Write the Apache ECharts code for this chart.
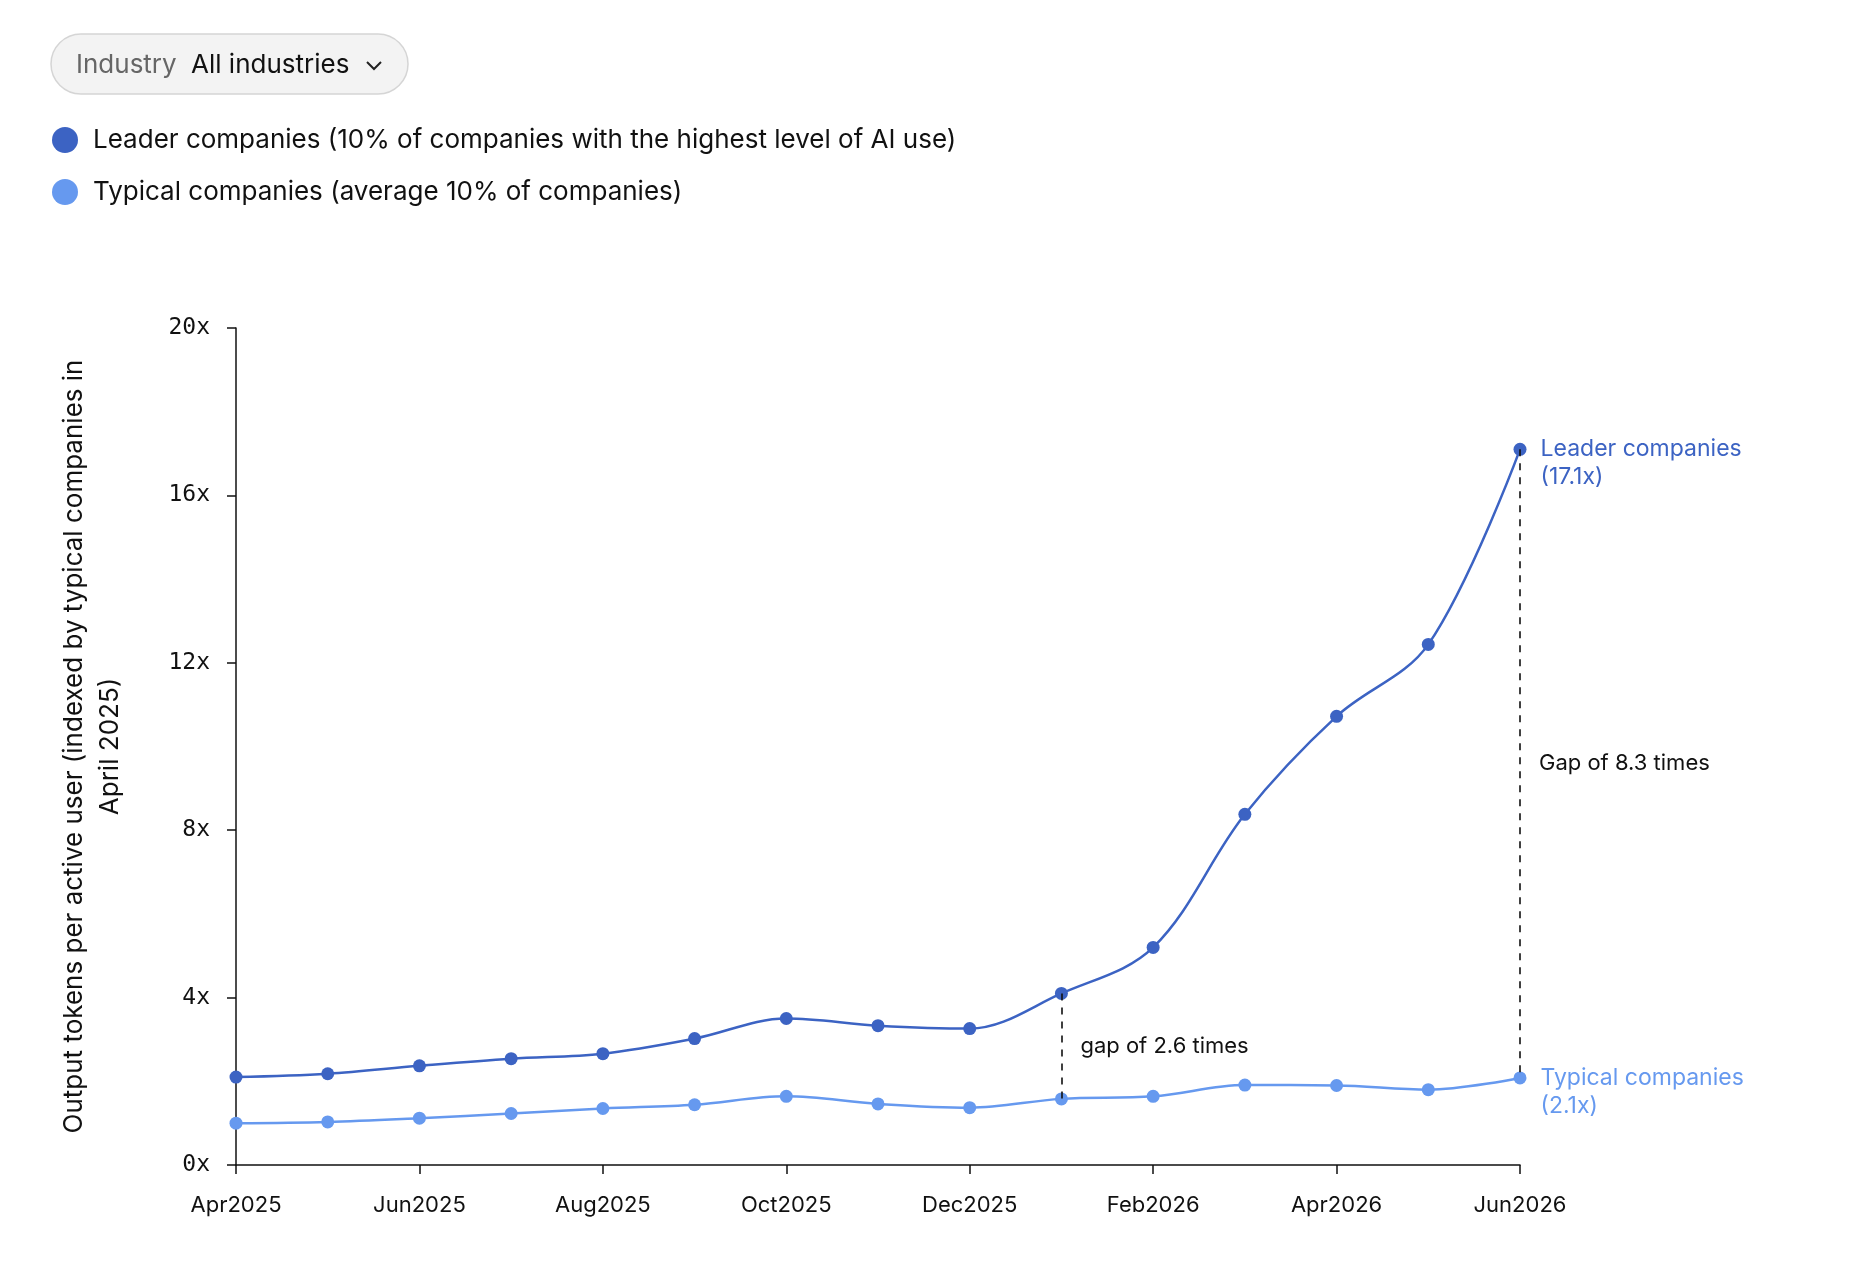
<!DOCTYPE html>
<html>
<head>
<meta charset="utf-8">
<title>Output tokens per active user</title>
<script src="https://cdn.jsdelivr.net/npm/echarts@6/dist/echarts.min.js"></script>
<style>
  html, body { margin: 0; padding: 0; background: #fff; }
  #main { width: 1850px; height: 1280px; }
</style>
</head>
<body>
<div id="main"></div>
<script>
// months, Apr 2025 .. Jun 2026
var months = ["Apr2025", "May2025", "Jun2025", "Jul2025", "Aug2025", "Sep2025", "Oct2025",
  "Nov2025", "Dec2025", "Jan2026", "Feb2026", "Mar2026", "Apr2026", "May2026", "Jun2026"];
var leaderValues = [2.1, 2.18, 2.37, 2.54, 2.66, 3.02, 3.5, 3.33, 3.26, 4.1, 5.2, 8.38, 10.72, 12.44, 17.1];
var typicalValues = [1.0, 1.03, 1.12, 1.23, 1.35, 1.44, 1.64, 1.46, 1.37, 1.58, 1.64, 1.91, 1.9, 1.8, 2.08];
var yTicks = { min: 0, max: 20, interval: 4 };
var leaderName = "Leader companies (10% of companies with the highest level of AI use)";
var typicalName = "Typical companies (average 10% of companies)";

var leaderColor = "#3c63c3";
var typicalColor = "#6699ef";
var uiFont = "Inter, Lato, 'Noto Sans', sans-serif";

var gapA = 9, gapB = 14; // Jan2026 and Jun2026
var last = months.length - 1;

var chart = echarts.init(document.getElementById("main"));

var lastLabel = function(text, color) {
  return {
    show: true,
    position: "right",
    distance: 14,
    offset: [0, 14],
    formatter: text,
    color: color,
    fontFamily: uiFont,
    fontSize: 23,
    lineHeight: 28
  };
};

var leaderData = leaderValues.map(function(v, i) {
  if (i === last) return { value: v, label: lastLabel("Leader companies\n(" + v.toFixed(1) + "x)", leaderColor) };
  return v;
});
var typicalData = typicalValues.map(function(v, i) {
  if (i === last) return { value: v, label: lastLabel("Typical companies\n(" + v.toFixed(1) + "x)", typicalColor) };
  return v;
});

var gapLabel = function(idx, text) {
  return {
    coord: [idx, (leaderValues[idx] + typicalValues[idx]) / 2],
    symbolSize: 0,
    label: {
      show: true,
      position: "right",
      distance: 19,
      formatter: text,
      color: "#111",
      fontFamily: uiFont,
      fontSize: 22
    }
  };
};

var option = {
  animation: false,
  backgroundColor: "#fff",
  textStyle: { fontFamily: uiFont },
  graphic: [
    {
      type: "rect",
      shape: { x: 51, y: 34, width: 357, height: 60, r: 30 },
      style: { fill: "#f3f3f3", stroke: "#d5d5d5", lineWidth: 1.5 }
    },
    {
      type: "text",
      left: 76, top: 52,
      style: { text: "Industry", fill: "#666", font: "26px " + uiFont }
    },
    {
      type: "text",
      left: 191, top: 52,
      style: { text: "All industries", fill: "#111", font: "26px " + uiFont }
    },
    {
      type: "polyline",
      shape: { points: [[367, 62], [374, 69], [381, 62]] },
      style: { stroke: "#222", lineWidth: 2, fill: null }
    }
  ],
  legend: {
    orient: "vertical",
    left: 47,
    top: 122,
    itemGap: 26,
    itemWidth: 26,
    itemHeight: 26,
    icon: "circle",
    selectedMode: false,
    textStyle: { fontSize: 26, color: "#111", fontFamily: uiFont, padding: [0, 0, 0, 10] },
    data: [
      { name: leaderName, itemStyle: { color: leaderColor } },
      { name: typicalName, itemStyle: { color: typicalColor } }
    ]
  },
  grid: { left: 236, right: 330, top: 328, bottom: 115, containLabel: false },
  xAxis: {
    type: "category",
    data: months,
    boundaryGap: false,
    axisLine: { lineStyle: { color: "#111", width: 1.5 } },
    axisTick: { show: true, interval: 1, length: 9, lineStyle: { color: "#111", width: 1.5 } },
    axisLabel: {
      interval: 1,
      margin: 29,
      color: "#111",
      fontFamily: uiFont,
      fontSize: 22
    },
    splitLine: { show: false }
  },
  yAxis: {
    type: "value",
    min: yTicks.min,
    max: yTicks.max,
    interval: yTicks.interval,
    name: "Output tokens per active user (indexed by typical companies in\nApril 2025)",
    nameLocation: "middle",
    nameRotate: 90,
    nameGap: 108,
    nameTextStyle: { fontSize: 26, color: "#111", fontFamily: uiFont, lineHeight: 36, align: "center" },
    axisLine: { show: true, lineStyle: { color: "#111", width: 1.5 } },
    axisTick: { show: true, length: 9, lineStyle: { color: "#111", width: 1.5 } },
    axisLabel: {
      margin: 26,
      color: "#111",
      fontFamily: "'DejaVu Sans Mono', monospace",
      fontSize: 23,
      formatter: "{value}x"
    },
    splitLine: { show: false }
  },
  series: [
    {
      name: leaderName,
      type: "line",
      data: leaderData,
      smooth: 0.35,
      symbol: "circle",
      symbolSize: 13,
      z: 3,
      itemStyle: { color: leaderColor },
      lineStyle: { color: leaderColor, width: 2.5 },
      markLine: {
        silent: true,
        symbol: "none",
        label: { show: false },
        lineStyle: { color: "#111", type: [7, 7], width: 1.6 },
        data: [
          [{ coord: [gapA, leaderValues[gapA]] }, { coord: [gapA, typicalValues[gapA]] }],
          [{ coord: [gapB, leaderValues[gapB]] }, { coord: [gapB, typicalValues[gapB]] }]
        ]
      },
      markPoint: {
        silent: true,
        symbol: "circle",
        data: [
          gapLabel(gapA, "gap of 2.6 times"),
          gapLabel(gapB, "Gap of 8.3 times")
        ]
      }
    },
    {
      name: typicalName,
      type: "line",
      data: typicalData,
      smooth: 0.35,
      symbol: "circle",
      symbolSize: 13,
      z: 3,
      itemStyle: { color: typicalColor },
      lineStyle: { color: typicalColor, width: 2.5 }
    }
  ]
};

chart.setOption(option);
</script>
</body>
</html>
